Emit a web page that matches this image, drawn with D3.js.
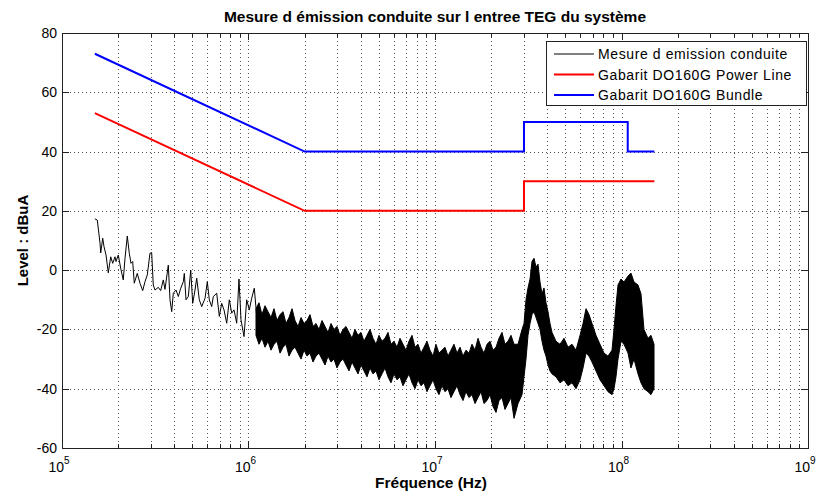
<!DOCTYPE html>
<html><head><meta charset="utf-8">
<script src="https://cdn.jsdelivr.net/npm/d3@7"></script>
<style>body{margin:0;background:#fff} text{font-family:"Liberation Sans",Arial,sans-serif;fill:#000}</style>
</head><body><svg id="c" width="818" height="494"></svg>
<script>
// ---- data ----
const titleText = "Mesure d émission conduite sur l entree TEG du système";
const xLabel = "Fréquence (Hz)";
const yLabel = "Level : dBuA";
const xDomainHz = [1e5, 1e9];
const yDomainDb = [-60, 80];
const xTickExponents = [5, 6, 7, 8, 9];
const yTicks = [-60, -40, -20, 0, 20, 40, 60, 80];
const legendLabels = ["Mesure d emission conduite", "Gabarit DO160G Power Line", "Gabarit DO160G Bundle"];
const seriesColors = ["#000000", "#ff0000", "#0000ff"];

// limit lines (frequency in MHz, level in dBuA)
const powerLineMHz = [0.15, 2, 30, 30, 150];
const powerLineDb  = [53, 20, 20, 30, 30];
const bundleMHz = [0.15, 2, 30, 30, 108, 108, 150];
const bundleDb  = [73, 40, 40, 50, 50, 40, 40];

// measurement, low-frequency part (single trace)
const measMHz = [0.150,0.1546,0.1599,0.1613,0.1653,0.1680,0.1722,0.1771,0.1825,0.1870,0.1924,0.1948,0.2004,0.2064,0.2131,0.2177,0.2239,0.2295,0.2344,0.2393,0.2441,0.2533,0.2619,0.2708,0.2786,0.2866,0.2963,0.3026,0.3086,0.3152,0.3283,0.3382,0.3492,0.3566,0.3715,0.3794,0.3875,0.3952,0.4086,0.4204,0.4331,0.4472,0.4527,0.4624,0.4757,0.4900,0.5022,0.5167,0.5276,0.5448,0.5613,0.5846,0.6014,0.6164,0.6349,0.6476,0.6754,0.6975,0.7184,0.7391,0.7641,0.7891,0.8128,0.8363,0.8643,0.8893,0.9116,0.9460,0.9780,1.010,1.040,1.074,1.107];
const measDb = [17.3,16.9,9.1,5.8,10.8,7.9,5.1,-0.9,4.5,2.3,4.5,2.9,5.1,0.6,-3.3,4.0,11.5,5.7,2.3,2.9,-4.4,-1.1,-4.4,-6.9,-3.9,-1.6,5.7,5.9,-5.0,-6.7,-5.8,-6.9,-3.3,-6.5,1.7,-10,-14,-7.8,-6.7,-8.9,-6.1,-3.9,-1.1,-10,-8.9,0,-11.2,-6.7,-2.7,-10,-12.3,-9.5,-3.9,-10,-12.3,-8.9,-7.8,-15.6,-11.2,-13.4,-17.9,-10,-14.5,-13.4,-17.9,-3,-16.8,-22.4,-10,-13.4,-9.5,-6.1,-15.6];

// measurement, dense high-frequency part (upper / lower envelope of the trace)
const bandMHz = [1.097,1.138,1.181,1.226,1.272,1.320,1.370,1.422,1.476,1.532,1.589,1.649,1.711,1.776,1.843,1.913,1.985,2.060,2.137,2.218,2.301,2.388,2.478,2.572,2.669,2.770,2.874,2.982,3.095,3.212,3.333,3.459,3.589,3.724,3.865,4.011,4.162,4.319,4.482,4.651,4.827,5.009,5.198,5.394,5.597,5.808,6.028,6.255,6.491,6.736,6.990,7.254,7.528,7.812,8.107,8.413,8.730,9.059,9.402,9.757,10.12,10.50,10.90,11.31,11.74,12.18,12.64,13.12,13.62,14.13,14.66,15.21,15.79,16.39,17.01,17.65,18.31,19.00,19.72,20.46,21.24,22.04,22.87,23.73,24.63,25.56,26.53,
  27.87,29.28,30.01,30.76,31.53,32.32,33.13,33.96,34.80,35.67,36.56,37.48,38.41,39.37,40.36,41.37,42.40,44.55,46.80,49.17,51.67,54.28,57.03,59.92,62.18,64.52,66.95,69.47,72.99,76.68,80.57,84.64,88.93,91.15,93.43,95.78,99.38,103.1,108.4,112.4,116.7,122.6,127.2,132.0,138.7,143.9,149.4];
const bandTopDb = [-13,-11,-15,-12,-14,-16,-13,-17,-15,-14,
  -18,-16,-13,-17,-19,-16,-18,-17,-15,-19,
  -18,-20,-17,-19,-21,-18,-20,-19,-22,-20,
  -19,-21,-23,-20,-22,-21,-24,-22,-20,-23,
  -25,-22,-24,-23,-21,-25,-24,-26,-23,-25,
  -27,-24,-22,-26,-25,-28,-26,-24,-27,-29,
  -25,-28,-27,-26,-29,-27,-25,-28,-26,-29,
  -27,-28,-25,-27,-23,-26,-28,-25,-24,-27,
  -26,-23,-21,-25,-24,-22,-25,
  -25,-20,-18,-10,-6,-3,3,4,1,2,-4,-8,-6,-11,-14,-18,-21,-24,-25,-23,-26,-25,-27,-22,-18,-13,-15,-18,-22,-25,-28,-29,-27,-20,-12,-5,-3,-4,-2,-1,-4,-5,-8,-20,-23,-22,-25];
const bandLowDb = [-22,-25,-23,-26,-24,-27,-25,-24,-28,-26,
  -25,-29,-27,-26,-28,-30,-27,-29,-28,-31,
  -29,-28,-30,-32,-29,-31,-30,-33,-31,-30,
  -32,-34,-31,-33,-35,-32,-34,-36,-33,-35,
  -34,-37,-35,-33,-36,-38,-35,-37,-36,-39,
  -37,-35,-38,-40,-37,-39,-38,-41,-39,-37,
  -40,-42,-39,-41,-40,-43,-41,-39,-42,-44,
  -41,-43,-42,-45,-43,-41,-45,-44,-42,-46,
  -48,-44,-43,-47,-45,-43,-50,
  -45,-42,-36,-30,-22,-18,-15,-14,-16,-18,-20,-24,-27,-29,-32,-34,-35,-36,-38,-37,-39,-38,-40,-37,-33,-28,-29,-31,-34,-37,-39,-41,-42,-40,-36,-30,-24,-25,-28,-33,-30,-35,-38,-40,-41,-42,-40];

// ---- drawing ----
const M = {l: 62, r: 808, t: 33, b: 448};
const svg = d3.select("#c");
const x = d3.scaleLog().domain(xDomainHz).range([M.l, M.r]);
const y = d3.scaleLinear().domain(yDomainDb).range([M.b, M.t]);

// grid
const minorHz = [];
for (let e = 5; e < 9; e++) for (let k = 1; k <= 9; k++) minorHz.push(k * Math.pow(10, e));
minorHz.push(1e9);
const grid = svg.append("g");
grid.selectAll("line.vx").data(minorHz.filter(f => f > 1e5 && f < 1e9)).join("line")
  .attr("x1", d => Math.round(x(d)) + 0.5).attr("x2", d => Math.round(x(d)) + 0.5)
  .attr("y1", M.t).attr("y2", M.b)
  .attr("stroke", "#555").attr("stroke-width", 1).attr("stroke-dasharray", "1,3");
grid.selectAll("line.hy").data(yTicks.filter(v => v > -60 && v < 80)).join("line")
  .attr("x1", M.l).attr("x2", M.r)
  .attr("y1", d => Math.round(y(d)) + 0.5).attr("y2", d => Math.round(y(d)) + 0.5)
  .attr("stroke", "#555").attr("stroke-width", 1).attr("stroke-dasharray", "1,3");

// axes box
svg.append("rect").attr("x", M.l + 0.5).attr("y", M.t + 0.5)
  .attr("width", M.r - M.l).attr("height", M.b - M.t)
  .attr("fill", "none").attr("stroke", "#222").attr("stroke-width", 1);

// ticks
const tk = svg.append("g").attr("stroke", "#222").attr("stroke-width", 1);
minorHz.forEach(f => {
  const major = Number.isInteger(Math.log10(f));
  const len = major ? 7 : 4;
  const px = Math.round(x(f)) + 0.5;
  tk.append("line").attr("x1", px).attr("x2", px).attr("y1", M.b).attr("y2", M.b - len);
  tk.append("line").attr("x1", px).attr("x2", px).attr("y1", M.t).attr("y2", M.t + len);
});
yTicks.forEach(v => {
  const py = Math.round(y(v)) + 0.5;
  tk.append("line").attr("x1", M.l).attr("x2", M.l + 7).attr("y1", py).attr("y2", py);
  tk.append("line").attr("x1", M.r).attr("x2", M.r - 7).attr("y1", py).attr("y2", py);
});

// tick labels
svg.append("g").selectAll("text").data(yTicks).join("text")
  .attr("x", M.l - 5).attr("y", d => y(d) + 5)
  .attr("text-anchor", "end").attr("font-size", 14).text(d => d);
const xl = svg.append("g").selectAll("text").data(xTickExponents).join("text")
  .attr("x", d => x(Math.pow(10, d)) - 3).attr("y", 472)
  .attr("text-anchor", "middle").attr("font-size", 14);
xl.append("tspan").text("10");
xl.append("tspan").attr("dy", -8).attr("font-size", 10).text(d => d);

// measurement
svg.append("clipPath").attr("id", "pc").append("rect")
  .attr("x", M.l).attr("y", M.t).attr("width", M.r - M.l).attr("height", M.b - M.t);
const plot = svg.append("g").attr("clip-path", "url(#pc)");
const meas = measMHz.map((f, i) => ({f: f * 1e6, v: measDb[i]}));
plot.append("path").datum(meas)
  .attr("d", d3.line().x(d => x(d.f)).y(d => y(d.v)))
  .attr("fill", "none").attr("stroke", seriesColors[0]).attr("stroke-width", 1);
const band = bandMHz.map((f, i) => ({f: f * 1e6, hi: bandTopDb[i], lo: bandLowDb[i]}));
plot.append("path").datum(band)
  .attr("d", d3.area().x(d => x(d.f)).y0(d => y(d.lo)).y1(d => y(d.hi)))
  .attr("fill", seriesColors[0]).attr("stroke", seriesColors[0]).attr("stroke-width", 1);

// limits
const lim = (fs, vs) => fs.map((f, i) => ({f: f * 1e6, v: vs[i]}));
plot.append("path").datum(lim(powerLineMHz, powerLineDb))
  .attr("d", d3.line().x(d => x(d.f)).y(d => y(d.v)))
  .attr("fill", "none").attr("stroke", seriesColors[1]).attr("stroke-width", 2);
plot.append("path").datum(lim(bundleMHz, bundleDb))
  .attr("d", d3.line().x(d => x(d.f)).y(d => y(d.v)))
  .attr("fill", "none").attr("stroke", seriesColors[2]).attr("stroke-width", 2);

// legend
const lg = svg.append("g");
lg.append("rect").attr("x", 546.5).attr("y", 41.5).attr("width", 260).attr("height", 64)
  .attr("fill", "#fff").attr("stroke", "#222").attr("stroke-width", 1);
legendLabels.forEach((t, i) => {
  const ly = 54 + i * 20.5;
  lg.append("line").attr("x1", 554).attr("x2", 594).attr("y1", ly).attr("y2", ly)
    .attr("stroke", seriesColors[i]).attr("stroke-width", i === 0 ? 1 : 2);
  lg.append("text").attr("x", 598).attr("y", ly + 5).attr("font-size", 14)
    .attr("letter-spacing", 0.6).text(t);
});

// titles
svg.append("text").attr("x", (M.l + M.r) / 2).attr("y", 22).attr("text-anchor", "middle")
  .attr("font-size", 15.5).attr("font-weight", "bold").text(titleText);
svg.append("text").attr("x", (M.l + M.r) / 2 - 4).attr("y", 488).attr("text-anchor", "middle")
  .attr("font-size", 15.5).attr("font-weight", "bold").text(xLabel);
svg.append("text").attr("transform", `translate(28,${(M.t + M.b) / 2}) rotate(-90)`)
  .attr("text-anchor", "middle").attr("font-size", 15).attr("font-weight", "bold").text(yLabel);
</script></body></html>
